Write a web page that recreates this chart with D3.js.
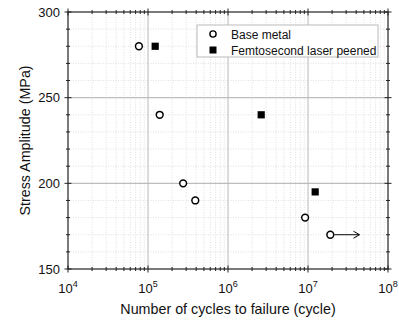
<!DOCTYPE html>
<html>
<head>
<meta charset="utf-8">
<script src="https://cdn.jsdelivr.net/npm/d3@7"></script>
<style>
  body { margin: 0; background: #fff; }
  text { font-family: "Liberation Sans", Arial, sans-serif; fill: #111; }
</style>
</head>
<body>
<svg id="chart" width="399" height="323"></svg>
<script>
// base metal samples
var baseCycles = [7.7e4, 1.4e5, 2.75e5, 3.9e5, 9.2e6, 1.9e7];
var baseStress = [280, 240, 200, 190, 180, 170];
// femtosecond laser peened samples
var peenedCycles = [1.23e5, 2.6e6, 1.23e7];
var peenedStress = [280, 240, 195];
// run-out arrow on the last base metal point
var runoutFrom = [1.9e7, 170];
var runoutTo = [4.4e7, 170];

var xTickValues = [1e4, 1e5, 1e6, 1e7, 1e8];
var yTickValues = [150, 200, 250, 300];
var legendLabels = ["Base metal", "Femtosecond laser peened"];

var svg = d3.select("#chart");
var pLeft = 68, pRight = 388, pTop = 12, pBottom = 269;

var x = d3.scaleLog().domain([1e4, 1e8]).range([pLeft, pRight]);
var y = d3.scaleLinear().domain([150, 300]).range([pBottom, pTop]);

// minor tick values
var xMinor = [];
for (var e = 4; e < 8; e++) {
  for (var m = 2; m <= 9; m++) xMinor.push(m * Math.pow(10, e));
}
var yMinor = d3.range(160, 300, 10).filter(function(v){ return v % 50 !== 0; });

var grid = svg.append("g");
grid.selectAll(".xminor").data(xMinor).enter().append("line")
  .attr("x1", function(d){ return x(d); }).attr("x2", function(d){ return x(d); })
  .attr("y1", pTop).attr("y2", pBottom)
  .attr("stroke", "#d8d8d8").attr("stroke-width", 0.8).attr("stroke-dasharray", "1,1.5");
grid.selectAll(".yminor").data(yMinor).enter().append("line")
  .attr("y1", function(d){ return y(d); }).attr("y2", function(d){ return y(d); })
  .attr("x1", pLeft).attr("x2", pRight)
  .attr("stroke", "#d8d8d8").attr("stroke-width", 0.8).attr("stroke-dasharray", "1,1.5");
grid.selectAll(".xmajor").data(xTickValues.slice(1, -1)).enter().append("line")
  .attr("x1", function(d){ return x(d); }).attr("x2", function(d){ return x(d); })
  .attr("y1", pTop).attr("y2", pBottom)
  .attr("stroke", "#bdbdbd").attr("stroke-width", 1.1);
grid.selectAll(".ymajor").data(yTickValues.slice(1, -1)).enter().append("line")
  .attr("y1", function(d){ return y(d); }).attr("y2", function(d){ return y(d); })
  .attr("x1", pLeft).attr("x2", pRight)
  .attr("stroke", "#bdbdbd").attr("stroke-width", 1.1);

// frame
svg.append("rect").attr("x", pLeft).attr("y", pTop)
  .attr("width", pRight - pLeft).attr("height", pBottom - pTop)
  .attr("fill", "none").attr("stroke", "#222").attr("stroke-width", 1.2);

// ticks crossing the frame on all four sides
var ticks = svg.append("g").attr("stroke", "#222").attr("stroke-width", 1);
function xTicks(vals, len) {
  vals.forEach(function(d){
    [pBottom, pTop].forEach(function(yy){
      ticks.append("line").attr("x1", x(d)).attr("x2", x(d))
        .attr("y1", yy - len).attr("y2", yy + len);
    });
  });
}
function yTicks(vals, len) {
  vals.forEach(function(d){
    [pLeft, pRight].forEach(function(xx){
      ticks.append("line").attr("y1", y(d)).attr("y2", y(d))
        .attr("x1", xx - len).attr("x2", xx + len);
    });
  });
}
xTicks(xTickValues, 3.5);
xTicks(xMinor, 2);
yTicks(yTickValues, 3.5);
yTicks(yMinor, 2);

// tick labels
var xl = svg.append("g").selectAll("text").data(xTickValues).enter().append("text")
  .attr("x", function(d){ return x(d); }).attr("y", 293)
  .attr("text-anchor", "middle").attr("font-size", 13);
xl.append("tspan").text("10");
xl.append("tspan").attr("dy", -6).attr("font-size", 9)
  .text(function(d){ return Math.round(Math.log10(d)); });

svg.append("g").selectAll("text").data(yTickValues).enter().append("text")
  .attr("x", 60).attr("y", function(d){ return y(d) + 4.5; })
  .attr("text-anchor", "end").attr("font-size", 13)
  .text(function(d){ return d; });

// axis titles
svg.append("text").attr("x", 228).attr("y", 314).attr("text-anchor", "middle")
  .attr("font-size", 14.3).text("Number of cycles to failure (cycle)");
svg.append("text").attr("transform", "translate(30," + ((pTop + pBottom) / 2) + ") rotate(-90)")
  .attr("text-anchor", "middle").attr("font-size", 14.3).text("Stress Amplitude (MPa)");

// data points
svg.append("g").selectAll("circle").data(baseCycles).enter().append("circle")
  .attr("cx", function(d){ return x(d); })
  .attr("cy", function(d, i){ return y(baseStress[i]); })
  .attr("r", 3.4).attr("fill", "#fff").attr("stroke", "#000").attr("stroke-width", 1.5);

svg.append("g").selectAll("rect").data(peenedCycles).enter().append("rect")
  .attr("x", function(d){ return x(d) - 3.6; })
  .attr("y", function(d, i){ return y(peenedStress[i]) - 3.6; })
  .attr("width", 7.2).attr("height", 7.2).attr("fill", "#000");

// run-out arrow
var ax1 = x(runoutFrom[0]) + 4, ax2 = x(runoutTo[0]), ay = y(runoutTo[1]);
svg.append("line").attr("x1", ax1).attr("x2", ax2).attr("y1", ay).attr("y2", ay)
  .attr("stroke", "#000").attr("stroke-width", 1);
svg.append("path")
  .attr("d", "M" + (ax2 - 6) + "," + (ay - 3.5) + "L" + ax2 + "," + ay + "L" + (ax2 - 6) + "," + (ay + 3.5))
  .attr("fill", "none").attr("stroke", "#000").attr("stroke-width", 1);

// legend
var lg = svg.append("g");
lg.append("rect").attr("x", 197).attr("y", 25).attr("width", 181).attr("height", 32)
  .attr("fill", "#fff").attr("stroke", "#bbb").attr("stroke-width", 1);
lg.append("circle").attr("cx", 213).attr("cy", 34).attr("r", 3.1)
  .attr("fill", "#fff").attr("stroke", "#000").attr("stroke-width", 1.4);
lg.append("rect").attr("x", 209.5).attr("y", 46.5).attr("width", 7).attr("height", 7).attr("fill", "#000");
lg.selectAll("text").data(legendLabels).enter().append("text")
  .attr("x", 231).attr("y", function(d, i){ return 38.5 + i * 16; })
  .attr("font-size", 12).text(function(d){ return d; });
</script>
</body>
</html>
